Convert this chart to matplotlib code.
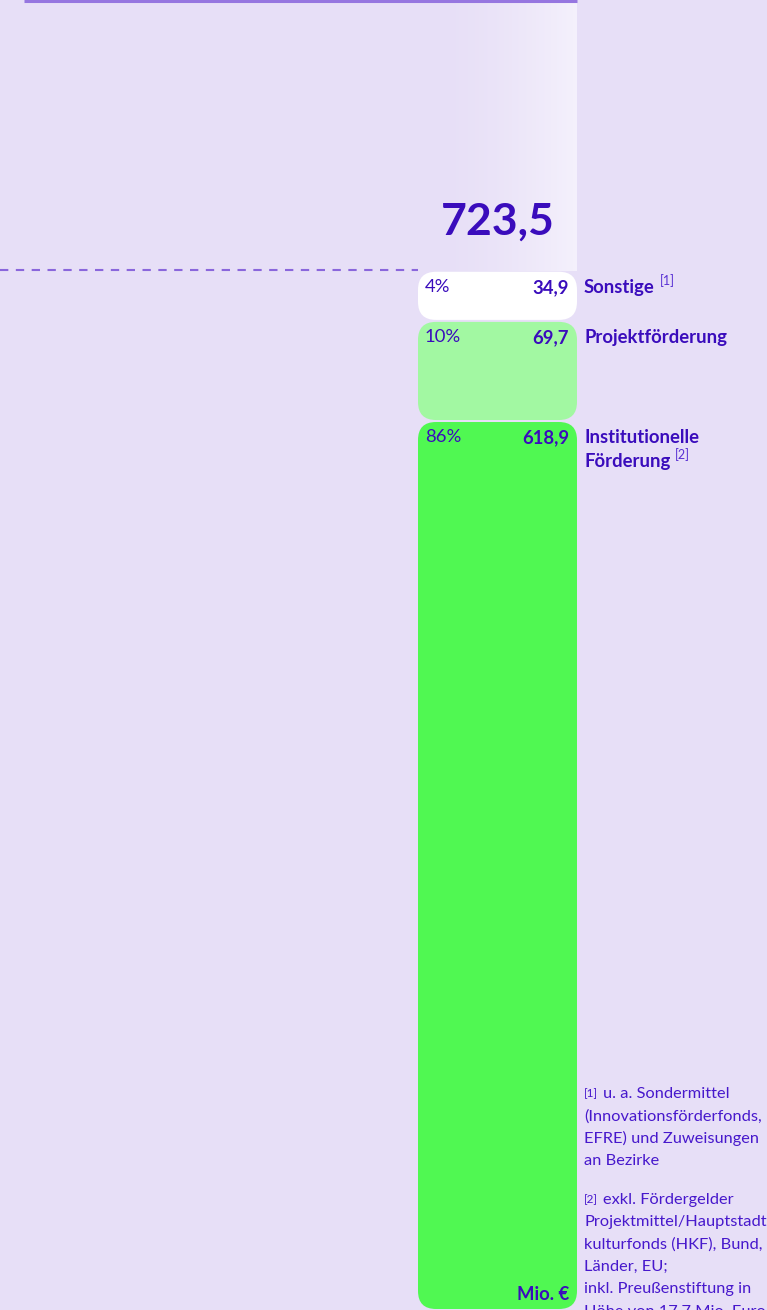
import numpy as np
import matplotlib.pyplot as plt
from matplotlib.patches import FancyBboxPatch

plt.rcParams['font.family'] = ['Lato', 'DejaVu Sans']

# data
labels = [["Institutionelle", "Förderung"], ["Projektförderung"], ["Sonstige"]]
notes = ["[2]", "", "[1]"]
values = [618.9, 69.7, 34.9]
shares = ["86%", "10%", "4%"]
value_txt = ["618,9", "69,7", "34,9"]
total_txt = "723,5"
colors = ["#50f852", "#a2f8a2", "#ffffff"]

foot1 = ["(Innovationsförderfonds,", "EFRE) und Zuweisungen", "an Bezirke"]
foot2 = ["Projektmittel/Hauptstadt-", "kulturfonds (HKF), Bund,", "Länder, EU;",
         "inkl. Preußenstiftung in", "Höhe von 17,7 Mio. Euro"]

bg = "#e7dff7"
ink = "#3a0cbc"
W, H = 767, 1310
ymax = 912.0
k = H / ymax  # px per unit

fig = plt.figure(figsize=(W / 100, H / 100), dpi=100, facecolor=bg)
ax = fig.add_axes([0, 0, 1, 1])
ax.set_xlim(0, W)
ax.set_ylim(0, ymax)
ax.axis("off")
ax.set_facecolor(bg)

x0, x1 = 418, 577
total = sum(values)

# fading column above the bar
grad = np.linspace(0, 1, 200) ** 1.6
rgba = np.ones((2, 200, 4))
rgba[..., :3] = np.array([0.97, 0.96, 0.995])
rgba[..., 3] = grad * 0.85
ax.imshow(rgba, extent=[430, x1, total, ymax], aspect="auto", zorder=1, interpolation="bilinear")

# top line and dashed line
ax.plot([24, x1], [ymax - 0.6 / k, ymax - 0.6 / k], color="#9676e0", lw=2.2, solid_capstyle="butt", zorder=3)
ax.plot([0, x0], [total + 1 / k, total + 1 / k], color="#8a66dc", lw=1.5, dashes=(4, 3.6), zorder=3)

# stacked segments
bottom = 0
r = 18
gap = 1.0 / k
tops = []
for v, c in zip(values, colors):
    p = FancyBboxPatch((x0, bottom + gap), x1 - x0, v - 2 * gap,
                       boxstyle="round,pad=0,rounding_size=%d" % r,
                       mutation_aspect=1 / k, fc=c, ec="none", zorder=2)
    ax.add_patch(p)
    bottom += v
    tops.append(bottom)

ax.annotate(total_txt, (0.5 * (x0 + x1), total), xytext=(0, 21), textcoords="offset points",
            ha="center", va="bottom", fontsize=32, fontweight="bold", color=ink)

fig.canvas.draw()
ren = fig.canvas.get_renderer()

fs = 13.3
for lab, note, sh, vt, top in zip(labels, notes, shares, value_txt, tops):
    ax.annotate(sh, (x0 + 7, top), xytext=(0, -6), textcoords="offset points",
                ha="left", va="top", fontsize=fs, color=ink)
    ax.annotate(vt, (x1 - 8, top), xytext=(0, -6), textcoords="offset points",
                ha="right", va="top", fontsize=fs, fontweight="bold", color=ink)
    for j, line in enumerate(lab):
        t = ax.annotate(line, (x1 + 7, top), xytext=(0, -6 - 17 * j), textcoords="offset points",
                        ha="left", va="top", fontsize=fs, fontweight="bold", color=ink)
    if note:
        bb = t.get_window_extent(ren)
        fig.text((bb.x1 + 5) / W, (bb.y0 + 9) / H, note, fontsize=9,
                 color="#5a32d4", ha="left", va="bottom")

# unit label
ax.annotate("Mio. €", (x1 - 8, 0), xytext=(0, 5), textcoords="offset points",
            ha="right", va="bottom", fontsize=fs, fontweight="bold", color=ink)

# footnotes
fx = 584
fc = "#4718cc"
fsz = 11.8
lh = 22.3
fy = 1094
fig.text(fx / W, 1 - fy / H, "[1]", fontsize=8.5, color=fc, va="center")
fig.text((fx + 19) / W, 1 - fy / H, "u. a. Sondermittel", fontsize=fsz, color=fc, va="center")
for i, s in enumerate(foot1):
    fig.text(fx / W, 1 - (fy + lh * (i + 1)) / H, s, fontsize=fsz, color=fc, va="center")
fy2 = 1200
fig.text(fx / W, 1 - fy2 / H, "[2]", fontsize=8.5, color=fc, va="center")
fig.text((fx + 19) / W, 1 - fy2 / H, "exkl. Fördergelder", fontsize=fsz, color=fc, va="center")
for i, s in enumerate(foot2):
    fig.text(fx / W, 1 - (fy2 + lh * (i + 1)) / H, s, fontsize=fsz, color=fc, va="center")

fig.savefig("out.png", dpi=100, facecolor=bg)
